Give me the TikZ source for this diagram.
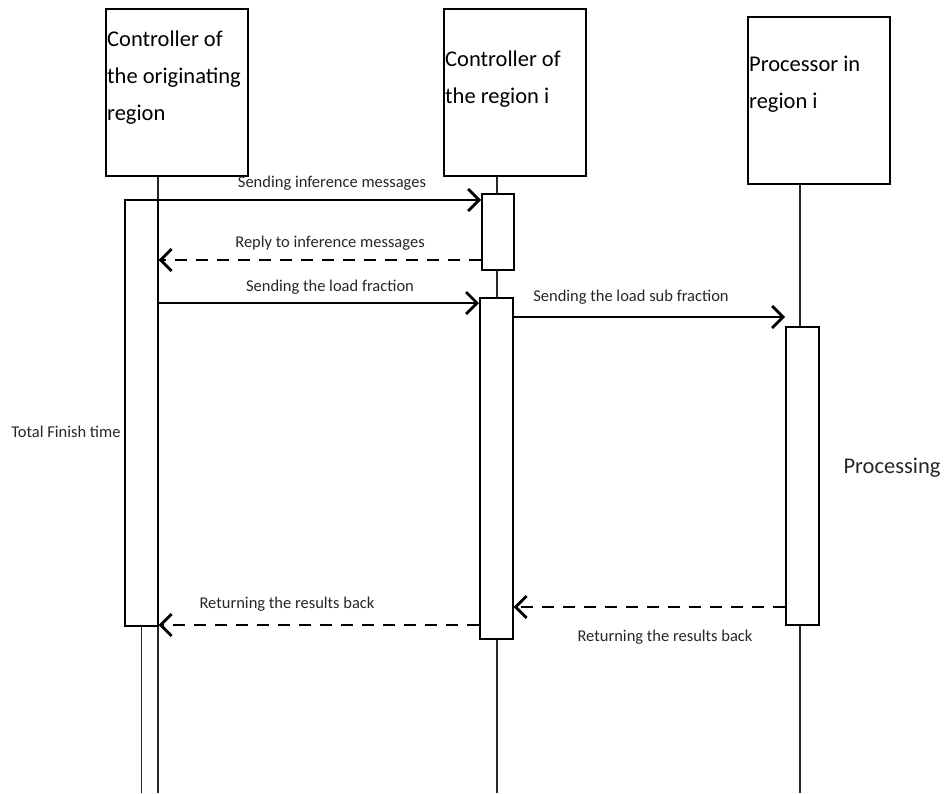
\documentclass[tikz,border=0pt]{standalone}
\usepackage{fontspec}
\setmainfont{Carlito}
\usetikzlibrary{arrows.meta}

\begin{document}
\begin{tikzpicture}[x=1pt, y=-1pt,
  actor/.style={draw=black, line width=1.6pt, fill=white, anchor=north west,
                minimum width=142pt, minimum height=167pt, inner sep=0pt},
  title/.style={anchor=north west, align=left, inner sep=0pt,
                font=\fontsize{22.5}{37}\selectfont},
  act/.style={draw=black, line width=1.6pt, fill=white, anchor=north west,
              inner sep=0pt, minimum width=33pt},
  life/.style={line width=1.3pt, black!85},
  msg/.style={-{Straight Barb[length=11pt, width=22pt]}, line width=2.8pt},
  reply/.style={msg, dash pattern=on 12pt off 9pt},
  lbl/.style={font=\fontsize{16.5}{20}\selectfont, text=black!85, inner sep=0pt},
  side/.style={font=\fontsize{22.5}{26}\selectfont, text=black!85, inner sep=0pt}
]
\useasboundingbox (0,0) rectangle (944,793);
\coordinate (bottom) at (0,793);

% participants
\node[actor] (orig) at (105,8) {};
\node[title] (origtxt) at (107,31) {Controller of\\the originating\\region};
\node[actor] (ctrl) at (443,8) {};
\node[title] (ctrltxt) at (445,51) {Controller of\\the region i};
\node[actor] (proc) at (747,16) {};
\node[title] (proctxt) at (749,56) {Processor in\\region i};

% lifelines
\coordinate (l1) at (158,0);
\coordinate (l2) at (497,0);
\coordinate (l3) at (800,0);
\draw[life] (l1 |- orig.south) -- (l1 |- bottom);
\draw[life] (l2 |- ctrl.south) -- (l2 |- bottom);
\draw[life] (l3 |- proc.south) -- (l3 |- bottom);

% activations
\node[act, minimum height=426pt] (origact) at (124,199) {};
\draw[life] (origact.south) -- (origact.south |- bottom);
\node[act, minimum height=76pt, minimum width=32pt] (ctrlact1) at (481,193) {};
\node[act, minimum height=341pt] (ctrlact2) at (479,297) {};
\node[act, minimum height=298pt] (procact) at (785,326) {};

% messages
\coordinate (m1) at (0,200);
\coordinate (m2) at (0,260);
\coordinate (m3) at (0,303);
\coordinate (m4) at (0,317);
\coordinate (m5) at (0,607);
\coordinate (m6) at (0,625);
\draw[msg] (origact.east |- m1) -- (ctrlact1.west |- m1);
\draw[reply] (ctrlact1.west |- m2) -- (origact.east |- m2);
\draw[msg] (origact.east |- m3) -- (ctrlact2.west |- m3);
\draw[msg] (ctrlact2.east |- m4) -- (procact.west |- m4);
\draw[reply] (procact.west |- m5) -- (ctrlact2.east |- m5);
\draw[reply] (ctrlact2.west |- m6) -- (origact.east |- m6);

\node[lbl] (l_inf) at (332,183) {Sending inference messages};
\node[lbl] (l_rep) at (330,243) {Reply to inference messages};
\node[lbl] (l_load) at (330,287) {Sending the load fraction};
\node[lbl] (l_sub) at (631,297) {Sending the load sub fraction};
\node[lbl] (l_ret1) at (287,604) {Returning the results back};
\node[lbl] (l_ret2) at (665,637) {Returning the results back};
\node[lbl] (l_total) at (66,432) {Total Finish time};
\node[side] (l_proc) at (892,468) {Processing};
\end{tikzpicture}
\end{document}
